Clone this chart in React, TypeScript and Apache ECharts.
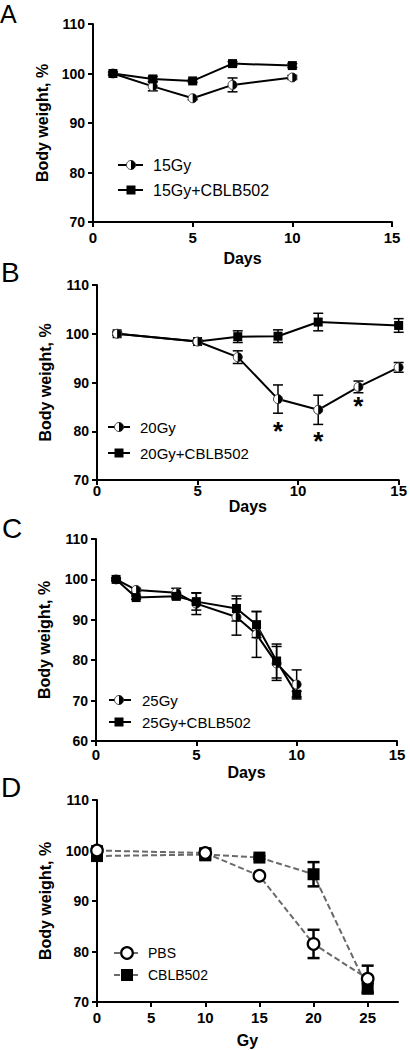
import React, { useEffect, useRef } from "react";
import * as echarts from "echarts";

const FONT = "Liberation Sans, Arial, Helvetica, sans-serif";

// Panel A
const daysA = [1, 3, 5, 7, 10];
const a15Gy = [100, 97.4, 95.0, 97.7, 99.2];
const a15GyErr = [0.3, 0.9, 0.3, 1.4, 0.4];
const a15GyCb = [100, 98.9, 98.5, 102.0, 101.6];
const a15GyCbErr = [0.3, 0.5, 0.3, 0.4, 0.4];

// Panel B
const daysB = [1, 5, 7, 9, 11, 13, 15];
const b20Gy = [100, 98.4, 95.2, 86.6, 84.4, 89.1, 93.1];
const b20GyErr = [0.3, 0.3, 1.3, 2.9, 3.0, 1.2, 1.0];
const daysBCb = [1, 5, 7, 9, 11, 15];
const b20GyCb = [100, 98.4, 99.4, 99.5, 102.4, 101.7];
const b20GyCbErr = [0.3, 0.3, 1.2, 1.3, 1.8, 1.4];
const starDays = [9, 11, 13];
const starY = [81.3, 79.2, 86.4];

// Panel C
const daysC = [1, 2, 4, 5, 7, 8, 9, 10];
const c25Gy = [100, 97.4, 96.7, 94.0, 90.7, 86.4, 79.2, 74.0];
const c25GyErr = [0.3, 0.4, 1.1, 2.7, 4.5, 5.7, 4.2, 3.6];
const c25GyCb = [100, 95.5, 95.8, 94.5, 92.8, 88.8, 79.8, 71.6];
const c25GyCbErr = [0.3, 0.4, 0.6, 2.1, 3.1, 3.2, 4.2, 0.7];

// Panel D
const doses = [0, 10, 15, 20, 25];
const dPbs = [100.0, 99.5, 95.0, 81.5, 74.6];
const dPbsErr = [0.8, 0.9, 0.3, 2.8, 2.6];
const dCb = [98.9, 99.2, 98.6, 95.3, 72.7];
const dCbErr = [0.6, 1.1, 0.3, 2.4, 1.0];

const doseTicks = [0, 5, 10, 15, 20, 25];

type Kind = "half" | "square" | "open" | "bigsquare";

function markerEls(kind: Kind, cx: number, cy: number): any[] {
  if (kind === "half") {
    return [
      { type: "circle", shape: { cx, cy, r: 4.5 }, style: { fill: "#fff", stroke: "#444", lineWidth: 1 } },
      {
        type: "sector",
        shape: { cx, cy, r0: 0, r: 4.5, startAngle: -Math.PI / 2, endAngle: Math.PI / 2, clockwise: true },
        style: { fill: "#000" },
      },
    ];
  }
  if (kind === "square") {
    const s = 9;
    return [{ type: "rect", shape: { x: cx - s / 2, y: cy - s / 2, width: s, height: s }, style: { fill: "#000" } }];
  }
  if (kind === "bigsquare") {
    const s = 12;
    return [{ type: "rect", shape: { x: cx - s / 2, y: cy - s / 2, width: s, height: s }, style: { fill: "#000" } }];
  }
  return [{ type: "circle", shape: { cx, cy, r: 5.8 }, style: { fill: "#fff", stroke: "#000", lineWidth: 2.2 } }];
}

function lineSeries(idx: number, xs: number[], ys: number[], dashed = false) {
  return {
    type: "line",
    xAxisIndex: idx,
    yAxisIndex: idx,
    data: xs.map((x, k) => [x, ys[k]]),
    symbol: "none",
    silent: true,
    z: 2,
    lineStyle: dashed
      ? { color: "#6a6a6a", width: 2, type: [6, 3] }
      : { color: "#000", width: 2 },
  };
}

function markSeries(idx: number, xs: number[], ys: number[], errs: number[], kind: Kind, z: number, thick = false) {
  const lw = thick ? 2.5 : 1.5;
  const cap = thick ? 6 : 5;
  return {
    type: "custom",
    xAxisIndex: idx,
    yAxisIndex: idx,
    z,
    silent: true,
    encode: { x: 0, y: 1 },
    data: xs.map((x, k) => [x, ys[k], errs[k]]),
    renderItem: (params: any, api: any) => {
      const x = api.value(0);
      const y = api.value(1);
      const e = api.value(2);
      const p = api.coord([x, y]);
      const children: any[] = [];
      if (e > 0) {
        const t = api.coord([x, y + e]);
        const b = api.coord([x, y - e]);
        const st = { stroke: "#000", lineWidth: lw };
        children.push({ type: "line", shape: { x1: p[0], y1: t[1], x2: p[0], y2: b[1] }, style: st });
        children.push({ type: "line", shape: { x1: p[0] - cap, y1: t[1], x2: p[0] + cap, y2: t[1] }, style: st });
        children.push({ type: "line", shape: { x1: p[0] - cap, y1: b[1], x2: p[0] + cap, y2: b[1] }, style: st });
      }
      children.push(...markerEls(kind, p[0], p[1]));
      return { type: "group", children };
    },
  };
}

function starSeries(idx: number) {
  return {
    type: "custom",
    xAxisIndex: idx,
    yAxisIndex: idx,
    z: 5,
    silent: true,
    encode: { x: 0, y: 1 },
    data: starDays.map((d, k) => [d, starY[k]]),
    renderItem: (params: any, api: any) => {
      const p = api.coord([api.value(0), api.value(1)]);
      return {
        type: "text",
        x: p[0],
        y: p[1] + 6,
        style: {
          text: "*",
          fill: "#000",
          fontSize: 26,
          fontWeight: "bold",
          fontFamily: FONT,
          align: "center",
          verticalAlign: "middle",
          textAlign: "center",
          textVerticalAlign: "middle",
        },
      };
    },
  };
}

function legendEls(
  rows: { y: number; kind: Kind; label: string }[],
  x1: number,
  x2: number,
  mx: number,
  tx: number,
  fs: number,
  dashed = false
): any[] {
  const els: any[] = [];
  rows.forEach((r) => {
    els.push({
      type: "line",
      shape: { x1, y1: r.y, x2, y2: r.y },
      style: dashed
        ? { stroke: "#6a6a6a", lineWidth: 2, lineDash: [6, 3] }
        : { stroke: "#000", lineWidth: 2 },
    });
    markerEls(r.kind, mx, r.y).forEach((m) => els.push(m));
    els.push({
      type: "text",
      x: tx,
      y: r.y,
      style: {
        text: r.label,
        fill: "#000",
        fontSize: fs,
        fontFamily: FONT,
        align: "left",
        verticalAlign: "middle",
        textAlign: "left",
        textVerticalAlign: "middle",
      },
    });
  });
  return els;
}

function letter(t: string, x: number, y: number, fs: number) {
  return {
    type: "text",
    x,
    y,
    style: {
      text: t,
      fill: "#000",
      fontSize: fs,
      fontFamily: FONT,
      align: "left",
      verticalAlign: "middle",
      textAlign: "left",
      textVerticalAlign: "middle",
    },
  };
}

const axisLineStyle = { lineStyle: { color: "#000", width: 2 } };
const tickStyle = { show: true, inside: false, length: 5, lineStyle: { color: "#000", width: 2 } };

function xAxis(idx: number, max: number, name: string, labelMargin: number, nameGap: number, custom?: number[]) {
  const ax: any = {
    type: "value",
    gridIndex: idx,
    min: 0,
    max,
    interval: 5,
    name,
    nameLocation: "middle",
    nameGap,
    nameTextStyle: { fontSize: 16, fontWeight: "bold", color: "#000", fontFamily: FONT },
    axisLine: { show: true, onZero: false, ...axisLineStyle },
    axisTick: { ...tickStyle },
    axisLabel: { margin: labelMargin, fontSize: 15, fontWeight: "bold", color: "#000", fontFamily: FONT },
    splitLine: { show: false },
  };
  if (custom) {
    ax.axisTick.customValues = custom;
    ax.axisLabel.customValues = custom;
  }
  return ax;
}

function yAxis(idx: number, min: number, nameGap: number) {
  return {
    type: "value",
    gridIndex: idx,
    min,
    max: 110,
    interval: 10,
    name: "Body weight, %",
    nameLocation: "middle",
    nameGap,
    nameRotate: 90,
    nameTextStyle: { fontSize: 16, fontWeight: "bold", color: "#000", fontFamily: FONT },
    axisLine: { show: true, onZero: false, ...axisLineStyle },
    axisTick: { ...tickStyle },
    axisLabel: { margin: 8, fontSize: 14, fontWeight: "bold", color: "#000", fontFamily: FONT },
    splitLine: { show: false },
  };
}

const option: any = {
  animation: false,
  backgroundColor: "#fff",
  textStyle: { fontFamily: FONT },
  grid: [
    { left: 93, top: 24, width: 299, height: 198 },
    { left: 97, top: 285, width: 305, height: 195 },
    { left: 96, top: 539, width: 301, height: 202 },
    { left: 97, top: 800, width: 301, height: 202 },
  ],
  xAxis: [
    xAxis(0, 15, "Days", 8, 28),
    xAxis(1, 15, "Days", 3, 16),
    xAxis(2, 15, "Days", 6, 23),
    xAxis(3, 27.8, "Gy", 8, 30, doseTicks),
  ],
  yAxis: [yAxis(0, 70, 41), yAxis(1, 70, 44), yAxis(2, 60, 44), yAxis(3, 70, 44)],
  series: [
    lineSeries(0, daysA, a15Gy),
    lineSeries(0, daysA, a15GyCb),
    markSeries(0, daysA, a15Gy, a15GyErr, "half", 3),
    markSeries(0, daysA, a15GyCb, a15GyCbErr, "square", 4),

    lineSeries(1, daysB, b20Gy),
    lineSeries(1, daysBCb, b20GyCb),
    markSeries(1, daysBCb, b20GyCb, b20GyCbErr, "square", 3),
    markSeries(1, daysB, b20Gy, b20GyErr, "half", 4),
    starSeries(1),

    lineSeries(2, daysC, c25Gy),
    lineSeries(2, daysC, c25GyCb),
    markSeries(2, daysC, c25Gy, c25GyErr, "half", 3),
    markSeries(2, daysC, c25GyCb, c25GyCbErr, "square", 4),

    lineSeries(3, doses, dPbs, true),
    lineSeries(3, doses, dCb, true),
    markSeries(3, doses, dCb, dCbErr, "bigsquare", 3, true),
    markSeries(3, doses, dPbs, dPbsErr, "open", 4, true),
  ],
  graphic: [
    letter("A", 0, 14, 25),
    letter("B", 1, 272, 28),
    letter("C", 2, 528, 28),
    letter("D", 1, 787, 28),
    ...legendEls(
      [
        { y: 165, kind: "half", label: "15Gy" },
        { y: 190, kind: "square", label: "15Gy+CBLB502" },
      ],
      118, 143, 131, 153, 16
    ),
    ...legendEls(
      [
        { y: 427, kind: "half", label: "20Gy" },
        { y: 453, kind: "square", label: "20Gy+CBLB502" },
      ],
      108, 130, 119, 140, 15
    ),
    ...legendEls(
      [
        { y: 700, kind: "half", label: "25Gy" },
        { y: 722, kind: "square", label: "25Gy+CBLB502" },
      ],
      109, 131, 119, 142, 15
    ),
    ...legendEls(
      [
        { y: 953, kind: "open", label: "PBS" },
        { y: 975, kind: "bigsquare", label: "CBLB502" },
      ],
      114, 140, 127, 148, 14, true
    ),
  ],
};

export default function App() {
  const ref = useRef<HTMLDivElement>(null);
  useEffect(() => {
    const chart = echarts.init(ref.current!, null, { renderer: "svg" });
    chart.setOption(option);
    return () => chart.dispose();
  }, []);
  return (
    <div
      ref={ref}
      style={{ position: "absolute", left: 0, top: 0, width: 410, height: 1050, background: "#fff" }}
    />
  );
}
